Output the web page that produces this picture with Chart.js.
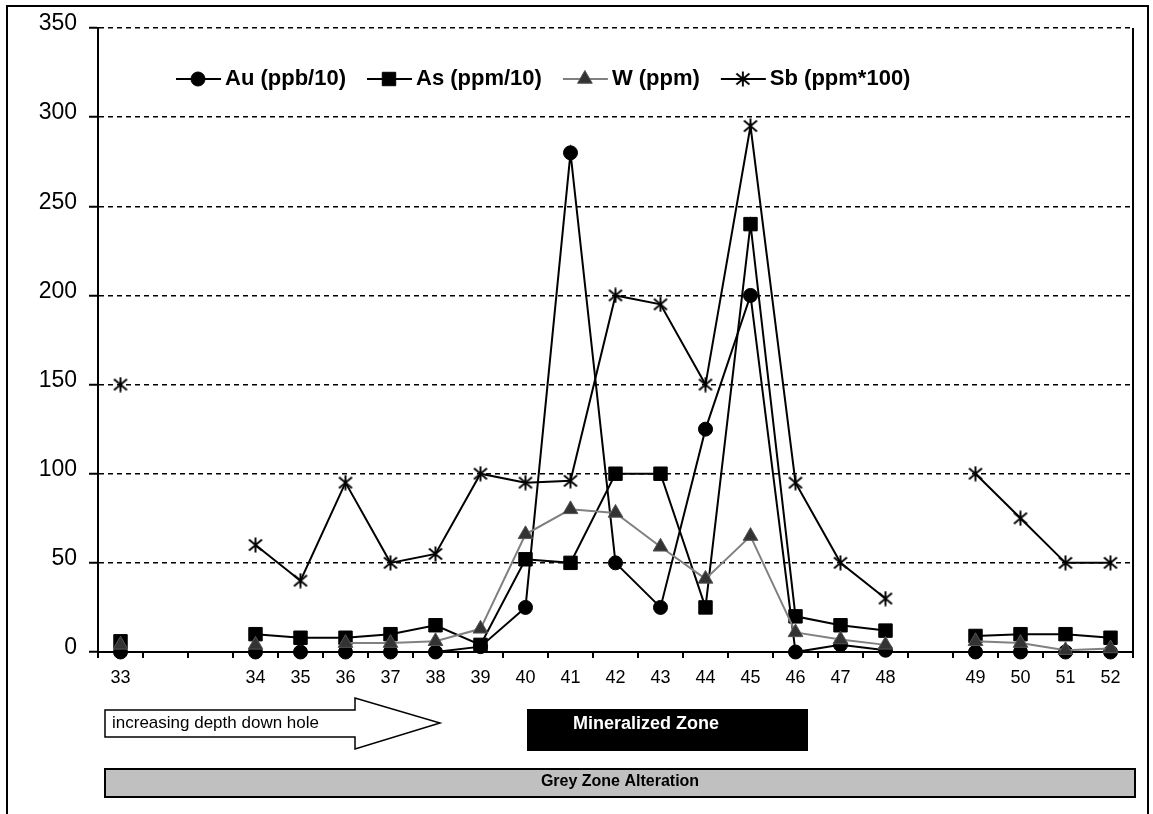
<!DOCTYPE html>
<html>
<head>
<meta charset="utf-8">
<title>Au, As, W, Sb down hole</title>
<script src="https://cdn.jsdelivr.net/npm/chart.js@4.4.1/dist/chart.umd.min.js"></script>
<style>
  html, body { margin: 0; padding: 0; background: #fff; }
  #chart { display: block; }
</style>
</head>
<body>
<canvas id="chart" width="1153" height="814"></canvas>
<script>
// sample numbers down the hole; blank slots keep the spacing of missing intervals
const sampleLabels = ["33", "", "", "34", "35", "36", "37", "38", "39", "40", "41", "42", "43", "44", "45", "46", "47", "48", "", "49", "50", "51", "52"];

const auValues = [0, null, null, 0, 0, 0, 0, 0, 3, 25, 280, 50, 25, 125, 200, 0, 4, 1, null, 0, 0, 0, 0];
const asValues = [6, null, null, 10, 8, 8, 10, 15, 4, 52, 50, 100, 100, 25, 240, 20, 15, 12, null, 9, 10, 10, 8];
const wValues = [4, null, null, 4, null, 5, 5, 6, 13, 66, 80, 78, 59, 41, 65, 11, 7, 4, null, 6, 5, 1, 2];
const sbValues = [150, null, null, 60, 40, 95, 50, 55, 100, 95, 96, 200, 195, 150, 295, 95, 50, 30, null, 100, 75, 50, 50];

const yMin = 0;
const yMax = 350;
const yStep = 50;

const seriesNames = ["Au (ppb/10)", "As (ppm/10)", "W (ppm)", "Sb (ppm*100)"];

const FONT = "'Liberation Sans', Arial, Helvetica, sans-serif";

function makeAsterisk(size) {
  const c = document.createElement("canvas");
  c.width = size;
  c.height = size;
  const ctx = c.getContext("2d");
  const h = size / 2;
  ctx.strokeStyle = "#000";
  ctx.lineWidth = 1.9;
  ctx.beginPath();
  ctx.moveTo(1.5, 2.5);
  ctx.lineTo(size - 1.5, size - 2.5);
  ctx.moveTo(size - 1.5, 2.5);
  ctx.lineTo(1.5, size - 2.5);
  ctx.moveTo(h, 0.5);
  ctx.lineTo(h, size - 0.5);
  ctx.stroke();
  return c;
}

const asterisk = makeAsterisk(16);

const seriesStyles = [
  { line: "#000", fill: "#000", edge: "#000", pointStyle: "circle", radius: 7 },
  { line: "#000", fill: "#000", edge: "#000", pointStyle: "rect", radius: 9.5 },
  { line: "#808080", fill: "#333", edge: "#555", pointStyle: "triangle", radius: 8.5 },
  { line: "#000", fill: "#000", edge: "#000", pointStyle: asterisk, radius: 8 }
];

function buildDatasets() {
  const values = [auValues, asValues, wValues, sbValues];
  return values.map((data, i) => {
    const st = seriesStyles[i];
    return {
      label: seriesNames[i],
      data,
      borderColor: st.line,
      borderWidth: 2,
      backgroundColor: st.fill,
      pointBackgroundColor: st.fill,
      pointBorderColor: st.edge,
      pointBorderWidth: 1,
      pointStyle: st.pointStyle,
      pointRadius: st.radius,
      pointHoverRadius: st.radius,
      tension: 0,
      spanGaps: false,
      clip: false,
      order: 3 - i
    };
  });
}

// legend inside the plot, plus the frame and the zone bars under the axis
const decorations = {
  id: "decorations",
  afterDraw(chart) {
    const ctx = chart.ctx;
    const area = chart.chartArea;
    const xs = chart.scales.x;

    ctx.save();

    // outer frame
    ctx.strokeStyle = "#000";
    ctx.lineWidth = 2;
    ctx.strokeRect(7, 6, 1141, 900);

    // right edge of plot
    ctx.beginPath();
    ctx.moveTo(area.right, area.top);
    ctx.lineTo(area.right, area.bottom);
    ctx.stroke();

    // legend
    ctx.font = `bold 22px ${FONT}`;
    ctx.textBaseline = "middle";
    ctx.textAlign = "left";
    let lx = 176;
    const ly = 79;
    chart.data.datasets.forEach((ds, i) => {
      const st = seriesStyles[i];
      ctx.strokeStyle = st.line;
      ctx.lineWidth = 2;
      ctx.beginPath();
      ctx.moveTo(lx, ly);
      ctx.lineTo(lx + 45, ly);
      ctx.stroke();
      ctx.fillStyle = st.fill;
      ctx.strokeStyle = st.edge;
      ctx.lineWidth = 1;
      Chart.helpers.drawPoint(ctx, { pointStyle: st.pointStyle, radius: st.radius, rotation: 0, borderWidth: 1 }, lx + 22, ly);
      ctx.fillStyle = "#000";
      ctx.fillText(ds.label, lx + 49, ly);
      lx += 49 + ctx.measureText(ds.label).width + 21;
    });

    // depth arrow
    const left = xs.left + 7;
    ctx.fillStyle = "#fff";
    ctx.strokeStyle = "#000";
    ctx.lineWidth = 1.5;
    ctx.beginPath();
    ctx.moveTo(left, 710);
    ctx.lineTo(355, 710);
    ctx.lineTo(355, 698);
    ctx.lineTo(440, 723);
    ctx.lineTo(355, 749);
    ctx.lineTo(355, 737);
    ctx.lineTo(left, 737);
    ctx.closePath();
    ctx.fill();
    ctx.stroke();
    ctx.fillStyle = "#000";
    ctx.font = `17px ${FONT}`;
    ctx.fillText("increasing depth down hole", left + 7, 723);

    // mineralized zone
    ctx.fillStyle = "#000";
    ctx.fillRect(527, 709, 281, 42);
    ctx.fillStyle = "#fff";
    ctx.font = `bold 18px ${FONT}`;
    ctx.fillText("Mineralized Zone", 573, 724);

    // grey alteration band
    ctx.fillStyle = "#c0c0c0";
    ctx.fillRect(left, 769, area.right + 2 - left, 28);
    ctx.strokeStyle = "#000";
    ctx.lineWidth = 2;
    ctx.strokeRect(left, 769, area.right + 2 - left, 28);
    ctx.fillStyle = "#000";
    ctx.font = `bold 16px ${FONT}`;
    ctx.textAlign = "center";
    ctx.fillText("Grey Zone Alteration", 620, 782);

    ctx.restore();
  }
};

document.addEventListener("DOMContentLoaded", () => {
  Chart.defaults.font.family = FONT;
  Chart.defaults.color = "#000";

  new Chart(document.getElementById("chart"), {
    type: "line",
    data: {
      labels: sampleLabels,
      datasets: buildDatasets()
    },
    options: {
      responsive: false,
      animation: false,
      layout: { padding: { left: 0, top: 28, right: 20, bottom: 0 } },
      plugins: {
        legend: { display: false },
        tooltip: { enabled: false }
      },
      scales: {
        x: {
          type: "category",
          offset: true,
          grid: { offset: true, drawOnChartArea: false, color: "#000", lineWidth: 2, tickLength: 6 },
          border: { color: "#000", width: 2 },
          ticks: { color: "#000", font: { size: 18 }, padding: 9, autoSkip: false, maxRotation: 0 },
          afterFit(scale) {
            scale.height = 162;
            scale.paddingLeft = 0;
            scale.paddingRight = 0;
          }
        },
        y: {
          min: yMin,
          max: yMax,
          ticks: { stepSize: yStep, color: "#000", font: { size: 23 }, padding: 12, labelOffset: -4 },
          grid: { color: "#000", lineWidth: 1.5, tickLength: 9, tickWidth: 2, tickColor: "#000", tickBorderDash: [] },
          border: { color: "#000", width: 2, dash: [5, 4] },
          afterFit(scale) {
            scale.width = 98;
            scale.paddingTop = 0;
            scale.paddingBottom = 0;
          }
        }
      }
    },
    plugins: [decorations]
  });
});
</script>
</body>
</html>
